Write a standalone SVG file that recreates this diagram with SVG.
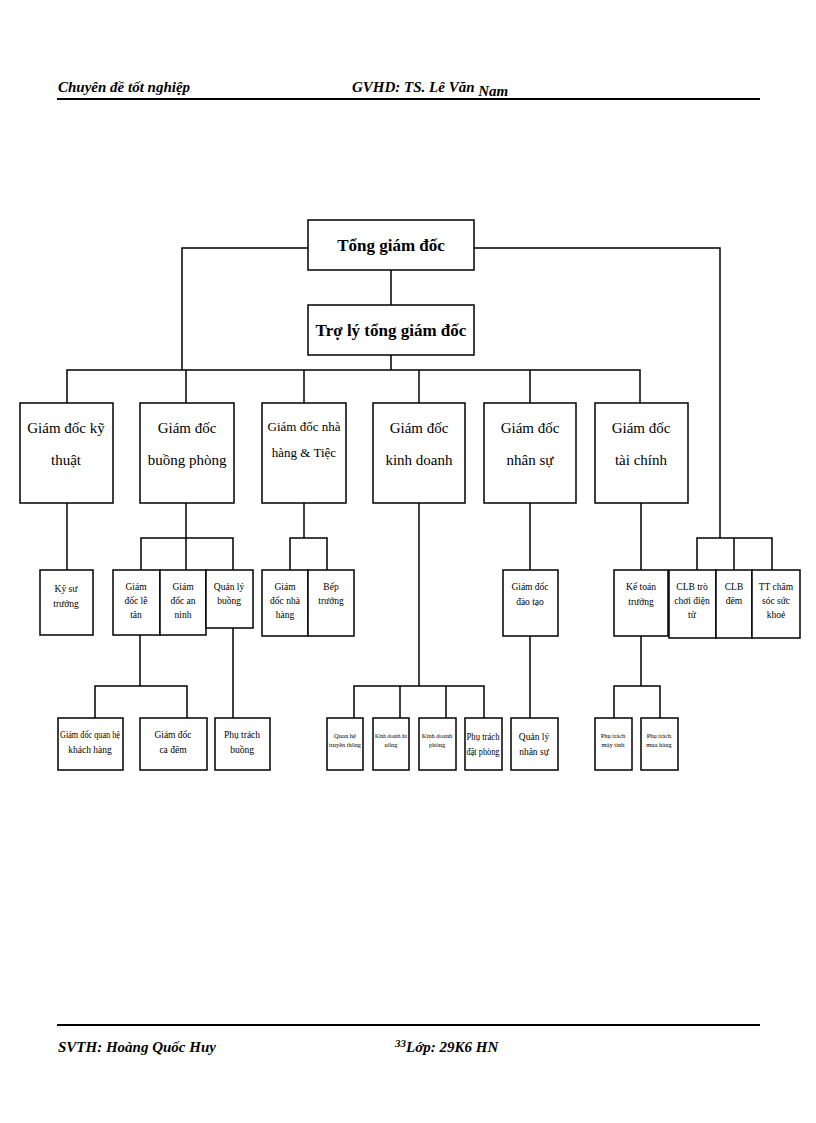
<svg xmlns="http://www.w3.org/2000/svg" width="816" height="1123" viewBox="0 0 816 1123">
<style>
rect{fill:#fff;stroke:#000;stroke-width:1.5}
line,polyline{stroke:#000;stroke-width:1.5;fill:none}
text{font-family:"Liberation Serif",serif;text-anchor:middle;fill:#000}
.h{font-style:italic;font-weight:bold;font-size:15px;text-anchor:start}
.b{font-weight:bold;font-size:17px}
.m{font-size:15px}
.s{font-size:9.5px}
.t{font-size:6.5px}
</style>
<rect width="816" height="1123" style="stroke:none"/>
<text class="h" x="58" y="92">Chuyên đề tốt nghiệp</text>
<text class="h" x="352" y="92">GVHD: TS. Lê Văn <tspan dy="4">Nam</tspan></text>
<line x1="57" y1="99" x2="760" y2="99" style="stroke-width:2"/>
<line x1="57" y1="1025" x2="760" y2="1025" style="stroke-width:2"/>
<text class="h" x="58" y="1052">SVTH: Hoàng Quốc Huy</text>
<text class="h" x="395" y="1052"><tspan style="font-size:11px" dy="-5">33</tspan><tspan dy="5">Lớp: 29K6 HN</tspan></text>
<g id="connectors">
<line x1="391" y1="270" x2="391" y2="305"/>
<polyline points="308,248 182,248 182,370"/>
<polyline points="474,248 720,248 720,538"/>
<line x1="391" y1="355" x2="391" y2="370"/>
<polyline points="67,403 67,370 640,370 640,403"/>
<line x1="186" y1="370" x2="186" y2="403"/><line x1="304" y1="370" x2="304" y2="403"/>
<line x1="419" y1="370" x2="419" y2="403"/><line x1="530" y1="370" x2="530" y2="403"/>
<line x1="67" y1="503" x2="67" y2="570"/>
<line x1="186" y1="503" x2="186" y2="570"/>
<polyline points="141,570 141,538 233,538 233,570"/>
<line x1="140" y1="635" x2="140" y2="686"/>
<polyline points="95,718 95,686 187,686 187,718"/>
<line x1="233" y1="628" x2="233" y2="718"/>
<line x1="304" y1="503" x2="304" y2="538"/>
<polyline points="290,570 290,538 327,538 327,570"/>
<line x1="419" y1="503" x2="419" y2="686"/>
<polyline points="354,718 354,686 484,686 484,718"/>
<line x1="400" y1="686" x2="400" y2="718"/><line x1="446" y1="686" x2="446" y2="718"/>
<line x1="530" y1="503" x2="530" y2="570"/>
<line x1="530" y1="636" x2="530" y2="718"/>
<line x1="641" y1="503" x2="641" y2="570"/>
<line x1="641" y1="636" x2="641" y2="686"/>
<polyline points="614,718 614,686 660,686 660,718"/>
<polyline points="697,570 697,538 772,538 772,570"/>
<line x1="734" y1="538" x2="734" y2="570"/>
</g>
<g id="n1"><rect x="308" y="220" width="166" height="50"/><text class="b" x="391" y="251">Tổng giám đốc</text></g>
<g id="n2"><rect x="308" y="305" width="166" height="50"/><text class="b" x="391" y="336">Trợ lý tổng giám đốc</text></g>
<g id="n3"><rect x="20" y="403" width="93" height="100"/><text class="m" x="66" y="433">Giám đốc kỹ</text><text class="m" x="66" y="465">thuật</text></g>
<g id="n4"><rect x="140" y="403" width="94" height="100"/><text class="m" x="187" y="433">Giám đốc</text><text class="m" x="187" y="465">buồng phòng</text></g>
<g id="n5"><rect x="262" y="403" width="84" height="100"/><text x="304" y="431" style="font-size:13px">Giám đốc nhà</text><text x="304" y="457" style="font-size:13px">hàng &amp; Tiệc</text></g>
<g id="n6"><rect x="373" y="403" width="92" height="100"/><text class="m" x="419" y="433">Giám đốc</text><text class="m" x="419" y="465">kinh doanh</text></g>
<g id="n7"><rect x="484" y="403" width="92" height="100"/><text class="m" x="530" y="433">Giám đốc</text><text class="m" x="530" y="465">nhân sự</text></g>
<g id="n8"><rect x="595" y="403" width="93" height="100"/><text class="m" x="641" y="433">Giám đốc</text><text class="m" x="641" y="465">tài chính</text></g>
<g id="n9"><rect x="40" y="570" width="53" height="65"/><text class="s" x="66" y="592">Kỹ sư</text><text class="s" x="66" y="607">trưởng</text></g>
<g id="n10"><rect x="113" y="570" width="47" height="65"/><text class="s" x="136" y="590">Giám</text><text class="s" x="136" y="604">đốc lễ</text><text class="s" x="136" y="618">tân</text></g>
<g id="n11"><rect x="160" y="570" width="46" height="65"/><text class="s" x="183" y="590">Giám</text><text class="s" x="183" y="604">đốc an</text><text class="s" x="183" y="618">ninh</text></g>
<g id="n12"><rect x="206" y="570" width="47" height="58"/><text class="s" x="229" y="590">Quản lý</text><text class="s" x="229" y="604">buồng</text></g>
<g id="n13"><rect x="262" y="570" width="46" height="66"/><text class="s" x="285" y="590">Giám</text><text class="s" x="285" y="604">đốc nhà</text><text class="s" x="285" y="618">hàng</text></g>
<g id="n14"><rect x="308" y="570" width="46" height="66"/><text class="s" x="331" y="590">Bếp</text><text class="s" x="331" y="604">trưởng</text></g>
<g id="n15"><rect x="503" y="570" width="55" height="66"/><text class="s" x="530" y="590">Giám đốc</text><text class="s" x="530" y="605">đào tạo</text></g>
<g id="n16"><rect x="614" y="570" width="54" height="66"/><text class="s" x="641" y="590">Kế toán</text><text class="s" x="641" y="605">trưởng</text></g>
<g id="n17"><rect x="669" y="570" width="47" height="68"/><text class="s" x="692" y="590">CLB trò</text><text class="s" x="692" y="604">chơi điện</text><text class="s" x="692" y="618">tử</text></g>
<g id="n18"><rect x="716" y="570" width="36" height="68"/><text class="s" x="734" y="590">CLB</text><text class="s" x="734" y="604">đêm</text></g>
<g id="n19"><rect x="752" y="570" width="48" height="68"/><text class="s" x="776" y="590">TT chăm</text><text class="s" x="776" y="604">sóc sức</text><text class="s" x="776" y="618">khoẻ</text></g>
<g id="n20"><rect x="58" y="718" width="65" height="52"/><text class="s" x="90" y="738" textLength="60" lengthAdjust="spacingAndGlyphs">Giám đốc quan hệ</text><text class="s" x="90" y="753">khách hàng</text></g>
<g id="n21"><rect x="140" y="718" width="67" height="52"/><text class="s" x="173" y="738">Giám đốc</text><text class="s" x="173" y="753">ca đêm</text></g>
<g id="n22"><rect x="215" y="718" width="55" height="52"/><text class="s" x="242" y="738">Phụ trách</text><text class="s" x="242" y="753">buồng</text></g>
<g id="n23"><rect x="327" y="718" width="36" height="52"/><text class="t" x="345" y="738">Quan hệ</text><text class="t" x="345" y="747" textLength="32" lengthAdjust="spacingAndGlyphs">truyền thông</text></g>
<g id="n24"><rect x="373" y="718" width="36" height="52"/><text class="t" x="391" y="738" textLength="32" lengthAdjust="spacingAndGlyphs">Kinh doanh ăn</text><text class="t" x="391" y="747">uống</text></g>
<g id="n25"><rect x="419" y="718" width="37" height="52"/><text class="t" x="437" y="738">Kinh doanh</text><text class="t" x="437" y="747">phòng</text></g>
<g id="n26"><rect x="465" y="718" width="37" height="52"/><text class="s" x="483" y="740" textLength="33" lengthAdjust="spacingAndGlyphs">Phụ trách</text><text class="s" x="483" y="755" textLength="33" lengthAdjust="spacingAndGlyphs">đặt phòng</text></g>
<g id="n27"><rect x="511" y="718" width="47" height="52"/><text class="s" x="534" y="740">Quản lý</text><text class="s" x="534" y="755">nhân sự</text></g>
<g id="n28"><rect x="595" y="718" width="37" height="52"/><text class="t" x="613" y="738">Phụ trách</text><text class="t" x="613" y="747">máy tính</text></g>
<g id="n29"><rect x="641" y="718" width="37" height="52"/><text class="t" x="659" y="738">Phụ trách</text><text class="t" x="659" y="747">mua hàng</text></g>
</svg>
